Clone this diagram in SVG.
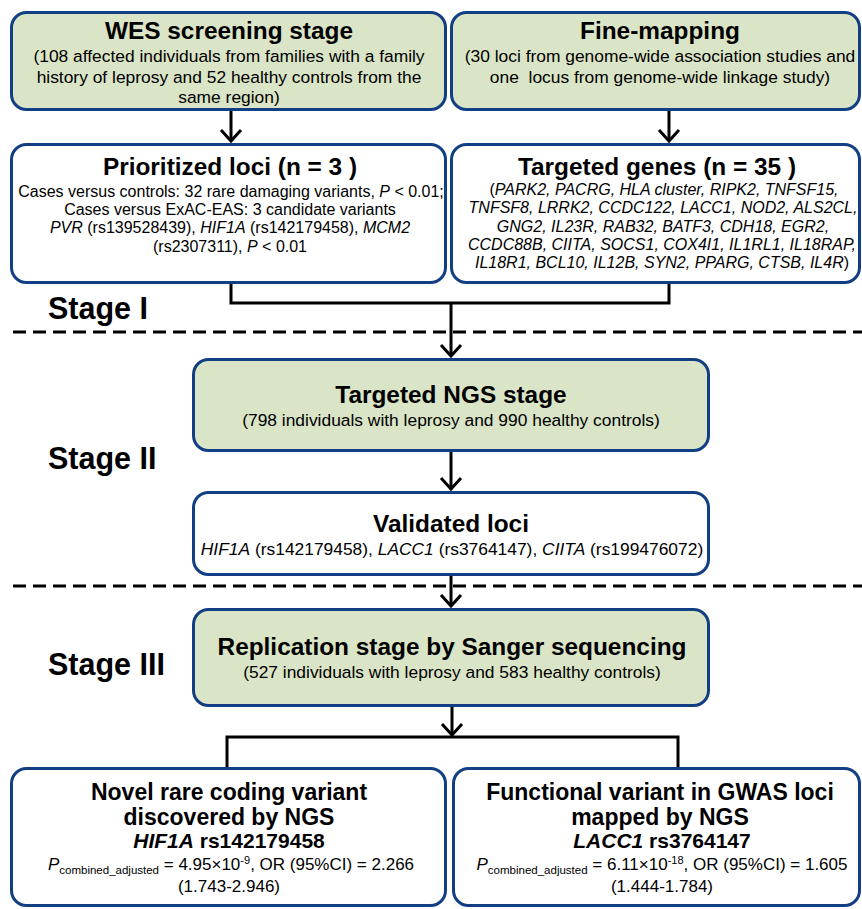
<svg xmlns="http://www.w3.org/2000/svg" width="862" height="909" viewBox="0 0 862 909">
<style>
text{font-family:"Liberation Sans",Arial,sans-serif;fill:#000;text-anchor:middle}
.box{stroke:#123E83;stroke-width:3}
.g{fill:#DAE5C7}
.w{fill:#fff}
.t{font-weight:bold;font-size:24.4px}
.tb{font-weight:bold;font-size:23px}
.t2{font-weight:bold;font-size:21px}
.s{font-size:17.4px}
.m{font-size:16px}
.p{font-size:17px}
.stage{font-weight:bold;font-size:30.5px;text-anchor:start}
.i{font-style:italic}
.sub{font-size:11.5px}
.sup{font-size:11px}
.con{fill:none;stroke:#000;stroke-width:3}
.dash{fill:none;stroke:#000;stroke-width:3;stroke-dasharray:13 7}
</style>
<defs>
<marker id="arr" markerUnits="userSpaceOnUse" viewBox="-14 -12 16 24" markerWidth="16" markerHeight="24" refX="0" refY="0" orient="auto" overflow="visible">
<path d="M-11,-10 L0,0 L-11,10" fill="none" stroke="#000" stroke-width="3"/>
</marker>
</defs>

<g id="dividers">
<line class="dash" x1="13" y1="332" x2="862" y2="332"/>
<line class="dash" x1="13" y1="586" x2="862" y2="586"/>
</g>

<g id="stage-labels">
<text class="stage" x="48" y="319">Stage I</text>
<text class="stage" x="48" y="469">Stage II</text>
<text class="stage" x="48" y="675">Stage III</text>
</g>

<g id="connectors">
<path class="con" d="M231,111 V141" marker-end="url(#arr)"/>
<path class="con" d="M669,111 V141" marker-end="url(#arr)"/>
<path class="con" d="M231,284 V303 H669 V284"/>
<path class="con" d="M451,303 V356" marker-end="url(#arr)"/>
<path class="con" d="M451,452 V489" marker-end="url(#arr)"/>
<path class="con" d="M451,576 V606" marker-end="url(#arr)"/>
<path class="con" d="M452,707 V735" marker-end="url(#arr)"/>
<path class="con" d="M227,767 V737 H678 V767"/>
</g>

<g id="wes">
<rect class="box g" x="11.5" y="12.5" width="434" height="97" rx="15"/>
<text class="t" x="229" y="39">WES screening stage</text>
<text class="s" x="229" y="62">(108 affected individuals from families with a family</text>
<text class="s" x="229" y="83">history of leprosy and 52 healthy controls from the</text>
<text class="s" x="229" y="103">same region)</text>
</g>

<g id="fine-mapping">
<rect class="box g" x="451.5" y="12.5" width="408" height="97" rx="15"/>
<text class="t" x="660" y="39">Fine-mapping</text>
<text class="s" x="660" y="62">(30 loci from genome-wide association studies and</text>
<text class="s" x="660" y="83">one&#160; locus from genome-wide linkage study)</text>
</g>

<g id="prioritized">
<rect class="box w" x="11.5" y="144.5" width="434" height="138" rx="15"/>
<text class="t" x="230" y="175">Prioritized loci (n = 3 )</text>
<text class="m" x="231" y="197">Cases versus controls: 32 rare damaging variants, <tspan class="i">P</tspan> &lt; 0.01;</text>
<text class="m" x="230" y="215">Cases versus ExAC-EAS: 3 candidate variants</text>
<text class="m" x="230" y="233"><tspan class="i">PVR</tspan> (rs139528439), <tspan class="i">HIF1A</tspan> (rs142179458), <tspan class="i">MCM2</tspan></text>
<text class="m" x="230" y="252">(rs2307311), <tspan class="i">P</tspan> &lt; 0.01</text>
</g>

<g id="targeted-genes">
<rect class="box w" x="451.5" y="144.5" width="408" height="138" rx="15"/>
<text class="t" x="657" y="175">Targeted genes (n = 35 )</text>
<text class="m" x="664" y="195">(<tspan class="i">PARK2, PACRG, HLA cluster, RIPK2, TNFSF15,</tspan></text>
<text class="m i" x="663" y="213">TNFSF8, LRRK2, CCDC122, LACC1, NOD2, ALS2CL,</text>
<text class="m i" x="663" y="232">GNG2, IL23R, RAB32, BATF3, CDH18, EGR2,</text>
<text class="m i" x="662" y="250">CCDC88B, CIITA, SOCS1, COX4I1, IL1RL1, IL18RAP,</text>
<text class="m" x="662" y="268"><tspan class="i">IL18R1, BCL10, IL12B, SYN2, PPARG, CTSB, IL4R</tspan>)</text>
</g>

<g id="targeted-ngs">
<rect class="box g" x="193.5" y="359.5" width="515" height="91" rx="15"/>
<text class="t" x="451" y="403">Targeted NGS stage</text>
<text class="s" x="451" y="426">(798 individuals with leprosy and 990 healthy controls)</text>
</g>

<g id="validated">
<rect class="box w" x="193.5" y="492.5" width="515" height="82" rx="15"/>
<text class="t" x="451" y="532">Validated loci</text>
<text class="s" x="452" y="555"><tspan class="i">HIF1A</tspan> (rs142179458), <tspan class="i">LACC1</tspan> (rs3764147), <tspan class="i">CIITA</tspan> (rs199476072)</text>
</g>

<g id="replication">
<rect class="box g" x="193.5" y="609.5" width="515" height="96" rx="15"/>
<text class="t" x="452" y="655">Replication stage by Sanger sequencing</text>
<text class="s" x="452" y="678">(527 individuals with leprosy and 583 healthy controls)</text>
</g>

<g id="novel">
<rect class="box w" x="11.5" y="768.5" width="434" height="137" rx="15"/>
<text class="tb" x="229" y="800">Novel rare coding variant</text>
<text class="tb" x="229" y="825">discovered by NGS</text>
<text class="t2" x="229" y="848"><tspan class="i">HIF1A</tspan> rs142179458</text>
<text class="p" x="231" y="870"><tspan class="i">P</tspan><tspan class="sub" dy="4">combined_adjusted</tspan><tspan dy="-4"> = 4.95×10</tspan><tspan class="sup" dy="-6">-9</tspan><tspan dy="6">, OR (95%CI) = 2.266</tspan></text>
<text class="p" x="229" y="892">(1.743-2.946)</text>
</g>

<g id="functional">
<rect class="box w" x="453.5" y="768.5" width="406" height="137" rx="15"/>
<text class="tb" x="660" y="800">Functional variant in GWAS loci</text>
<text class="tb" x="660" y="825">mapped by NGS</text>
<text class="t2" x="662" y="848"><tspan class="i">LACC1</tspan> rs3764147</text>
<text class="p" x="662" y="870"><tspan class="i">P</tspan><tspan class="sub" dy="4">combined_adjusted</tspan><tspan dy="-4"> = 6.11×10</tspan><tspan class="sup" dy="-6">-18</tspan><tspan dy="6">, OR (95%CI) = 1.605</tspan></text>
<text class="p" x="662" y="892">(1.444-1.784)</text>
</g>
</svg>
